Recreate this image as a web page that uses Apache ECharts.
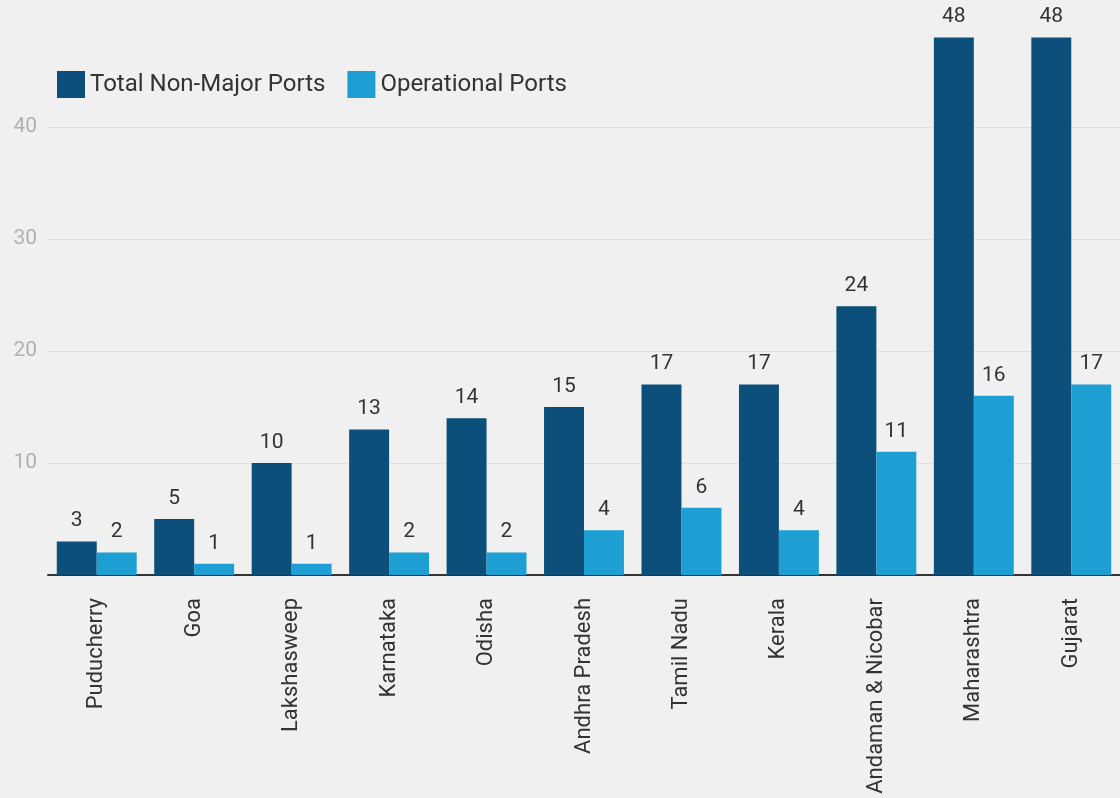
<!DOCTYPE html>
<html>
<head>
<meta charset="utf-8">
<script src="https://cdn.jsdelivr.net/npm/echarts@6/dist/echarts.min.js"></script>
<style>
  html, body { margin: 0; padding: 0; background: #f0f0f0; }
  #chart { width: 1120px; height: 798px; }
</style>
</head>
<body>
<div id="chart"></div>
<script>
// States ordered by total non-major ports
const states = ['Puducherry', 'Goa', 'Lakshasweep', 'Karnataka', 'Odisha', 'Andhra Pradesh',
  'Tamil Nadu', 'Kerala', 'Andaman & Nicobar', 'Maharashtra', 'Gujarat']
const totalPorts = [3, 5, 10, 13, 14, 15, 17, 17, 24, 48, 48]
const operationalPorts = [2, 1, 1, 2, 2, 4, 6, 4, 11, 16, 17]

const chart = echarts.init(document.getElementById('chart'))

const labelStyle = {
  show: true,
  position: 'top',
  distance: 10,
  color: '#333',
  fontSize: 21,
  fontFamily: 'Roboto'
}

chart.setOption({
  backgroundColor: '#f0f0f0',
  textStyle: { fontFamily: 'Roboto' },
  legend: {
    left: 52,
    top: 66,
    itemWidth: 28,
    itemHeight: 27,
    itemGap: 22,
    icon: 'rect',
    textStyle: { fontSize: 24, color: '#333', fontFamily: 'Roboto' }
  },
  grid: {
    left: 48,
    right: -3,
    top: 15,
    bottom: 223
  },
  xAxis: {
    type: 'category',
    data: states,
    axisLine: { lineStyle: { color: '#333', width: 2 } },
    axisTick: { alignWithLabel: true, length: 9, lineStyle: { color: '#333', width: 2 } },
    axisLabel: {
      rotate: 90,
      interval: 0,
      margin: 23,
      color: '#333',
      fontSize: 22,
      fontFamily: 'Roboto'
    }
  },
  yAxis: {
    type: 'value',
    min: 0,
    max: 50,
    interval: 10,
    axisLine: { show: false },
    axisTick: { show: false },
    axisLabel: {
      showMinLabel: false,
      showMaxLabel: false,
      color: '#b0b0b0',
      fontSize: 21,
      margin: 11,
      fontFamily: 'Roboto'
    },
    splitLine: {
      showMinLine: false,
      showMaxLine: false,
      lineStyle: { color: '#e2e2e2' }
    }
  },
  series: [
    {
      name: 'Total Non-Major Ports',
      type: 'bar',
      data: totalPorts,
      barGap: '0%',
      barCategoryGap: '18%',
      itemStyle: { color: '#0c4f7b' },
      label: labelStyle
    },
    {
      name: 'Operational Ports',
      type: 'bar',
      data: operationalPorts,
      itemStyle: { color: '#1d9fd3' },
      label: labelStyle
    }
  ]
})
</script>
</body>
</html>
